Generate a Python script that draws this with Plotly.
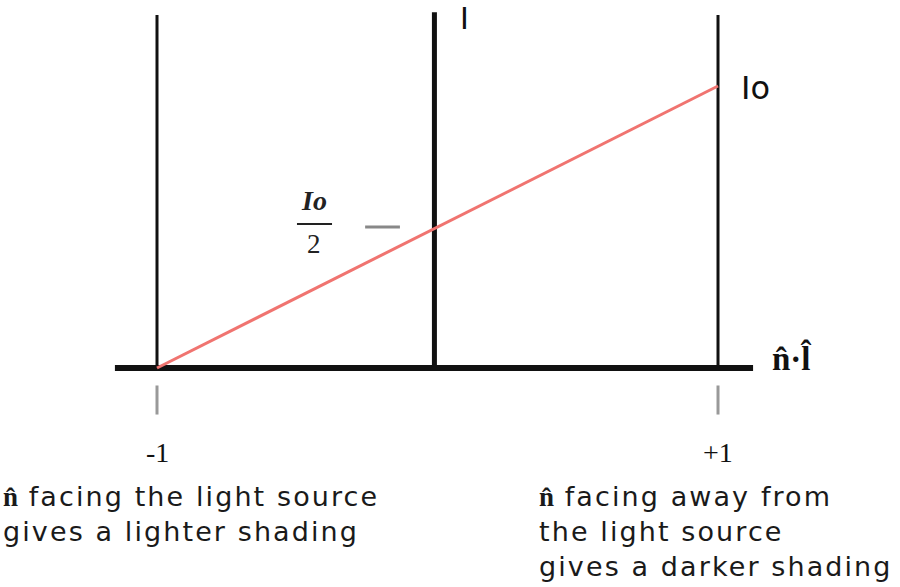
import plotly.graph_objects as go

# Data: n·l on x, intensity on y (Io normalised to 1)
n_dot_l = [-1, 1]
intensity = [0, 1]
tick_labels = ["-1", "+1"]
half_label_y = 0.5

X0, X1 = -1.5597, 1.6488
Y0, Y1 = -0.7766, 1.305

fig = go.Figure()

shapes = []
shapes.append(dict(type="line", x0=-1.15, x1=1.125, y0=0, y1=0,
                   line=dict(color="#111", width=6), layer="below"))
shapes.append(dict(type="line", x0=n_dot_l[0], x1=n_dot_l[0], y0=0, y1=1.252,
                   line=dict(color="#111", width=3), layer="below"))
shapes.append(dict(type="line", x0=n_dot_l[1], x1=n_dot_l[1], y0=0, y1=1.252,
                   line=dict(color="#111", width=3), layer="below"))
shapes.append(dict(type="line", x0=-0.011, x1=-0.011, y0=0, y1=1.262,
                   line=dict(color="#111", width=5), layer="below"))
for xv in n_dot_l:
    shapes.append(dict(type="line", x0=xv, x1=xv, y0=-0.062, y1=-0.165,
                       line=dict(color="#999", width=3)))
shapes.append(dict(type="line", x0=-0.258, x1=-0.134, y0=half_label_y, y1=half_label_y,
                   line=dict(color="#888", width=3)))
shapes.append(dict(type="line", x0=-0.501, x1=-0.376, y0=0.511, y1=0.511,
                   line=dict(color="#222", width=2)))

fig.add_trace(go.Scatter(x=n_dot_l, y=intensity, mode="lines",
                         line=dict(color="#f07470", width=3), hoverinfo="skip",
                         showlegend=False))

serif = "Liberation Serif"
sans = "DejaVu Sans"
ann = []
ann.append(dict(x=0.095, y=1.239, text="I", xanchor="center", yanchor="middle",
                font=dict(family=sans, size=30, color="#111")))
ann.append(dict(x=1.075, y=0.993, text="Io", xanchor="left", yanchor="middle",
                font=dict(family=sans, size=32, color="#111")))
ann.append(dict(x=-0.44, y=0.595, text="<i><b>Io</b></i>", xanchor="center", yanchor="middle",
                font=dict(family=serif, size=28, color="#222")))
ann.append(dict(x=-0.44, y=0.44, text="2", xanchor="center", yanchor="middle",
                font=dict(family=serif, size=27, color="#222")))
ann.append(dict(x=1.185, y=0.035, text="<b>n̂·l̂</b>", xanchor="left", yanchor="middle",
                font=dict(family=serif, size=33, color="#111")))
for xv, lbl in zip(n_dot_l, tick_labels):
    ann.append(dict(x=xv, y=-0.298, text=lbl, xanchor="center", yanchor="middle",
                    font=dict(family=serif, size=28, color="#111")))
hat = "<span style='font-family:Liberation Serif'><b>n̂</b></span>"
sp = "<span style='letter-spacing:2.1px'>{}</span>"
left_txt = hat + sp.format(" facing the light source") + "<br>" + sp.format("gives a lighter shading")
right_txt = (hat + sp.format(" facing away from") + "<br>" + sp.format("the light source")
             + "<br>" + sp.format("gives a darker shading"))
ann.append(dict(x=X0 + 0.003, y=-0.395, text=left_txt,
                xanchor="left", yanchor="top", align="left",
                font=dict(family=sans, size=27, color="#1a1a1a")))
ann.append(dict(x=0.355, y=-0.395, text=right_txt,
                xanchor="left", yanchor="top", align="left",
                font=dict(family=sans, size=27, color="#1a1a1a")))
for a in ann:
    a.update(showarrow=False, xref="x", yref="y")

fig.update_layout(
    width=900, height=587, margin=dict(l=0, r=0, t=0, b=0),
    paper_bgcolor="white", plot_bgcolor="white",
    xaxis=dict(range=[X0, X1], visible=False, fixedrange=True),
    yaxis=dict(range=[Y0, Y1], visible=False, fixedrange=True),
    shapes=shapes, annotations=ann, showlegend=False,
)
fig.write_html("out.html", config={"displayModeBar": False},
               post_script="document.body.style.margin='0';")
